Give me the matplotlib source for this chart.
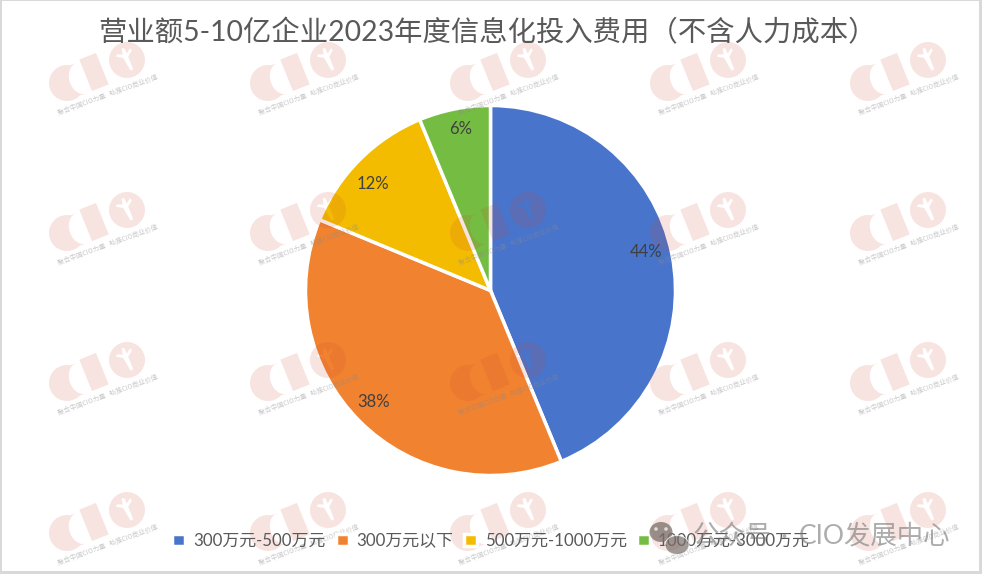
"""Pie chart: 2023 IT spend of companies with 500M-1B revenue, with CIO watermark tiles."""
import numpy as np
import matplotlib
matplotlib.use('Agg')
import matplotlib.pyplot as plt
from matplotlib.patches import Circle, Ellipse, PathPatch, Polygon, Rectangle
from matplotlib.path import Path

plt.rcParams['font.family'] = ['Lato', 'Noto Sans CJK SC', 'DejaVu Sans']

W, H = 982, 574

TITLE = '营业额5-10亿企业2023年度信息化投入费用（不含人力成本）'
categories = ['300万元-500万元', '300万元以下', '500万元-1000万元', '1000万元-3000万元']
counts = [7, 6, 2, 1]
colors = ['#4874CC', '#F18230', '#F4BC00', '#75BD42']
# best-fit label nudges, in pixels
label_nudge = [(7, 9), (-10, -4), (-10, -1), (0, 13)]

WM_COLS = [67, 268, 468, 668, 868]
WM_ROWS = [83, 233, 383, 533]
WM_TEXT = '聚合中国CIO力量   助推CIO商业价值'
WM_COLOR = '#C8452A'
WM_ALPHA = 0.14


def py(y):
    """Reference pixel row to axes y."""
    return H - y


def rot(points, deg):
    a = np.radians(deg)
    m = np.array([[np.cos(a), -np.sin(a)], [np.sin(a), np.cos(a)]])
    return np.asarray(points, dtype=float) @ m.T


def draw_watermark(ax, cx, cy):
    """One CIO stamp, cx/cy being the centre of the C in pixels."""
    kw = dict(facecolor=WM_COLOR, edgecolor='none', alpha=WM_ALPHA, zorder=5)
    x0, y0 = cx, py(cy)
    # C: disc with a bite taken on the right
    t = np.radians(np.linspace(62, 298, 60))
    outer = np.c_[18 * np.cos(t), 18 * np.sin(t)]
    t2 = np.radians(np.linspace(270, 90, 30))
    inner = np.c_[12 * np.cos(t2) + 15, 16 * np.sin(t2)]
    ax.add_patch(Polygon(rot(np.r_[outer, inner], 18) + [x0, y0], closed=True, **kw))
    # I: slanted bar
    bar = np.array([[-9, -17], [9, -17], [9, 17], [-9, 17]])
    ax.add_patch(Polygon(rot(bar, 22) + [x0 + 27, y0 + 11], closed=True, **kw))
    # O: disc with the plant shape cut out
    centre = np.array([x0 + 60, y0 + 23])
    disc = Path.circle(centre, 18)
    hole = 0.85 * rot([[-1.5, -13], [-3, 4], [-10, 9], [-8, 11], [-2, 8], [0, 15], [3, 14],
                       [3, 7], [9, 11], [10, 8], [3, 3], [2, -13], [-1.5, -13]], 25) + centre
    cut = Path(hole, closed=True)
    ax.add_patch(PathPatch(Path.make_compound_path(disc, cut), **kw))
    ax.text(x0 + 41, y0 - 12, WM_TEXT, fontsize=4.8, rotation=20, ha='center', va='center',
            color='#8A8A8A', alpha=0.45, zorder=5, rotation_mode='anchor',
            family=['Noto Sans CJK SC', 'DejaVu Sans'])


fig = plt.figure(figsize=(W / 100, H / 100), dpi=100, facecolor='#D9D9D9')
ax = fig.add_axes([0, 0, 1, 1])
ax.set_xlim(0, W)
ax.set_ylim(0, H)
ax.axis('off')
ax.add_patch(Rectangle((2, 3), 977, 570, facecolor='white', edgecolor='none', zorder=0))

wedges, texts, autotexts = ax.pie(
    counts, colors=colors, center=(490.5, py(290.5)), radius=185, startangle=90, counterclock=False,
    autopct='%.0f%%', pctdistance=0.82, frame=True,
    wedgeprops=dict(edgecolor='white', linewidth=2.5, zorder=2),
    textprops=dict(fontsize=12, color='#404040', zorder=6))
ax.set_xlim(0, W)
ax.set_ylim(0, H)
ax.set_aspect('equal')
ax.axis('off')
for txt, (dx, dy) in zip(autotexts, label_nudge):
    x, y = txt.get_position()
    txt.set_position((x + dx, y + dy))

ax.text(488, py(33), TITLE, fontsize=20.4, color='#595959', ha='center', va='center', zorder=6)

leg = ax.legend(wedges, categories, ncol=4, loc='center', bbox_to_anchor=(491 / W, 1 - 541 / H),
                frameon=False, fontsize=12.2, labelcolor='#595959', handlelength=0.78, handleheight=0.78,
                handletextpad=0.45, columnspacing=0.62, borderpad=0)
leg.set_zorder(6)

for cy in WM_ROWS:
    for cx in WM_COLS:
        draw_watermark(ax, cx, cy)

# account badge from the repost, sits over everything
badge = '#7A6F6A'
ax.add_patch(Ellipse((661, py(532)), 23, 20, facecolor=badge, edgecolor='none', alpha=0.75, zorder=7))
ax.add_patch(Ellipse((677, py(545)), 24, 19, facecolor=badge, edgecolor='white', lw=0.8, alpha=0.7, zorder=7))
ax.add_patch(Circle((656, py(529)), 1.8, facecolor='white', edgecolor='none', alpha=0.7, zorder=7))
ax.add_patch(Circle((666, py(529)), 1.8, facecolor='white', edgecolor='none', alpha=0.7, zorder=7))
badge_text = dict(fontsize=19, color='#777777', alpha=0.6, va='center', zorder=7)
ax.text(693, py(536), '公众号', ha='left', **badge_text)
ax.text(784, py(536), '·', ha='center', **badge_text)
ax.text(950, py(536), 'CIO发展中心', ha='right', **badge_text)

fig.savefig('out.png', dpi=100)
